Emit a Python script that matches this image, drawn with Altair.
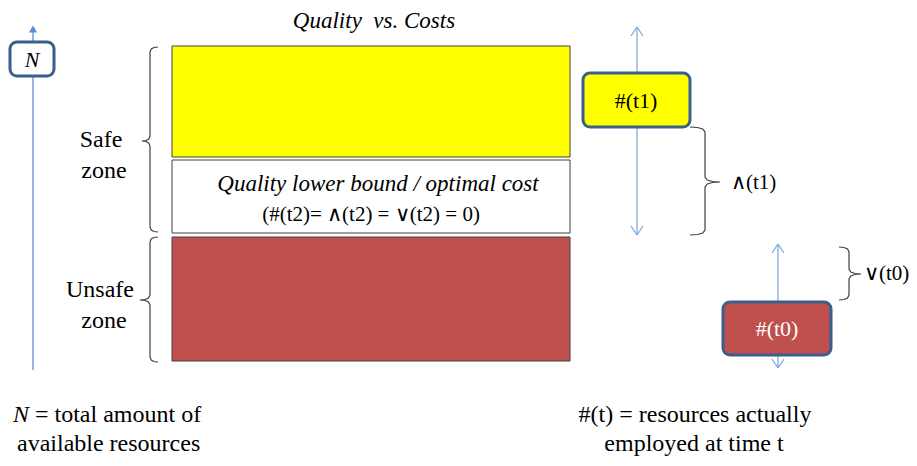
import altair as alt
import pandas as pd

SERIF = "Liberation Serif"
BOX_STROKE = "#3A5F8E"
ARROW = "#7AA5DB"

# ---- zones (stacked resource bands) ----
zone_names = ["quality", "optimal", "unsafe"]
zone_x0 = [172, 172, 172]
zone_x1 = [570, 570, 570]
zone_y0 = [46, 160, 237]
zone_y1 = [157, 233, 361]
zone_fill = ["#FFFF00", "#FFFFFF", "#C0504D"]

# ---- rounded state boxes ----
box_names = ["N", "t1", "t0"]
box_x0 = [10, 583, 723]
box_x1 = [54, 690, 831]
box_y0 = [42, 73, 302]
box_y1 = [76, 127, 355]
box_fill = ["#FFFFFF", "#FFFF00", "#C0504D"]

# ---- arrow shafts ----
shaft_x = [33, 637, 778]
shaft_y0 = [32, 27, 244]
shaft_y1 = [370, 235, 368]

# ---- braces: end x, spine x, tip x, top, mid, bottom ----
brace_end = [158, 158, 690, 839]
brace_spine = [150, 150, 705, 849]
brace_tip = [142, 140, 720, 861]
brace_top = [47, 237, 127, 247]
brace_mid = [141, 300, 182, 274]
brace_bot = [232, 362, 235, 300]

X = alt.X("x:Q", scale=alt.Scale(domain=[8, 909], nice=False, zero=False), axis=None)
Y = alt.Y("y:Q", scale=alt.Scale(domain=[458, 8], nice=False, zero=False), axis=None)


def rects(x0, x1, y0, y1, fills, **kw):
    df = pd.DataFrame({"x": x0, "x2": x1, "y": y0, "y2": y1, "fill": fills})
    return alt.Chart(df).mark_rect(**kw).encode(
        x=X, x2="x2:Q", y=Y, y2="y2:Q",
        fill=alt.Fill("fill:N", scale=None),
    )


def segs(rows, color, width=1.2):
    df = pd.DataFrame(rows, columns=["x", "y", "x2", "y2"])
    return alt.Chart(df).mark_rule(color=color, strokeWidth=width).encode(
        x=X, y=Y, x2="x2:Q", y2="y2:Q"
    )


def text(items, size, italic=False, color="black", align="center"):
    df = pd.DataFrame(items, columns=["x", "y", "t"])
    kw = dict(font=SERIF, fontSize=size, color=color, align=align, baseline="middle")
    if italic:
        kw["fontStyle"] = "italic"
    return alt.Chart(df).mark_text(**kw).encode(x=X, y=Y, text="t:N")


# brace polyline points
brace_rows = []
for b, (e, s, t, top, mid, bot) in enumerate(
        zip(brace_end, brace_spine, brace_tip, brace_top, brace_mid, brace_bot)):
    pts = [
        (e, top), (s + (e - s) * 0.5, top + 0.5), (s + (e - s) * 0.15, top + 2), (s, top + 5),
        (s, mid - 5), (s + (t - s) * 0.15, mid - 2), (s + (t - s) * 0.5, mid - 0.5), (t, mid),
        (s + (t - s) * 0.5, mid + 0.5), (s + (t - s) * 0.15, mid + 2), (s, mid + 5),
        (s, bot - 5), (s + (e - s) * 0.15, bot - 2), (s + (e - s) * 0.5, bot - 0.5), (e, bot),
    ]
    for i, (px, py) in enumerate(pts):
        brace_rows.append({"id": b, "i": i, "x": px, "y": py})
braces = alt.Chart(pd.DataFrame(brace_rows)).mark_line(
    color="#404040", strokeWidth=1.2
).encode(x=X, y=Y, detail="id:N", order="i:Q")

# shafts and chevrons
left_shaft = segs([(shaft_x[0], shaft_y0[0], shaft_x[0], shaft_y1[0])], "#5B8FD0", 1.3)
right_rows = [(shaft_x[i], shaft_y0[i], shaft_x[i], shaft_y1[i]) for i in (1, 2)]
for cx, ya, yb in [(shaft_x[1], shaft_y0[1], shaft_y1[1]), (shaft_x[2], shaft_y0[2], shaft_y1[2])]:
    right_rows += [(cx, ya, cx - 6, ya + 9), (cx, ya, cx + 6, ya + 9),
                   (cx, yb, cx - 6, yb - 9), (cx, yb, cx + 6, yb - 9)]
right_arrows = segs(right_rows, ARROW, 1.2)
left_head = alt.Chart(pd.DataFrame({"x": [33], "y": [29]})).mark_point(
    shape="triangle-up", filled=True, size=70, color="#5B8FD0", opacity=1
).encode(x=X, y=Y)

zones = rects(zone_x0, zone_x1, zone_y0, zone_y1, zone_fill,
              stroke="#404040", strokeWidth=1)
boxes = rects(box_x0, box_x1, box_y0, box_y1, box_fill,
              stroke=BOX_STROKE, strokeWidth=3, cornerRadius=7)

layers = [
    left_shaft, left_head, right_arrows, braces, zones, boxes,
    text([(374, 21, "Quality\u00a0\u00a0vs. Costs")], 23, italic=True),
    text([(378, 184, "Quality lower bound / optimal cost")], 23, italic=True),
    text([(371, 215, "(#(t2)= ∧(t2) = ∨(t2) = 0)")], 21),
    text([(101, 140, "Safe"), (104, 171, "zone"),
          (100, 290, "Unsafe"), (104, 321, "zone")], 24),
    text([(32, 60, "N")], 22, italic=True),
    text([(636, 101, "#(t1)")], 22),
    text([(777, 329, "#(t0)")], 22, color="white"),
    text([(731, 183, "∧(t1)"), (864, 274, "∨(t0)")], 21, align="left"),
    text([(13, 415, "N")], 24, italic=True, align="left"),
    text([(35, 415, "= total amount of"), (17, 444, "available resources")], 24, align="left"),
    text([(695, 415, "#(t) = resources actually"), (694, 444, "employed at time t")], 24),
]

chart = alt.layer(*layers).properties(
    width=901, height=450, autosize=alt.AutoSizeParams(type="none"), padding=0,
    background="white",
).configure_view(stroke=None, strokeWidth=0)

chart.save("out.html", embed_options={"renderer": "svg", "actions": False})
